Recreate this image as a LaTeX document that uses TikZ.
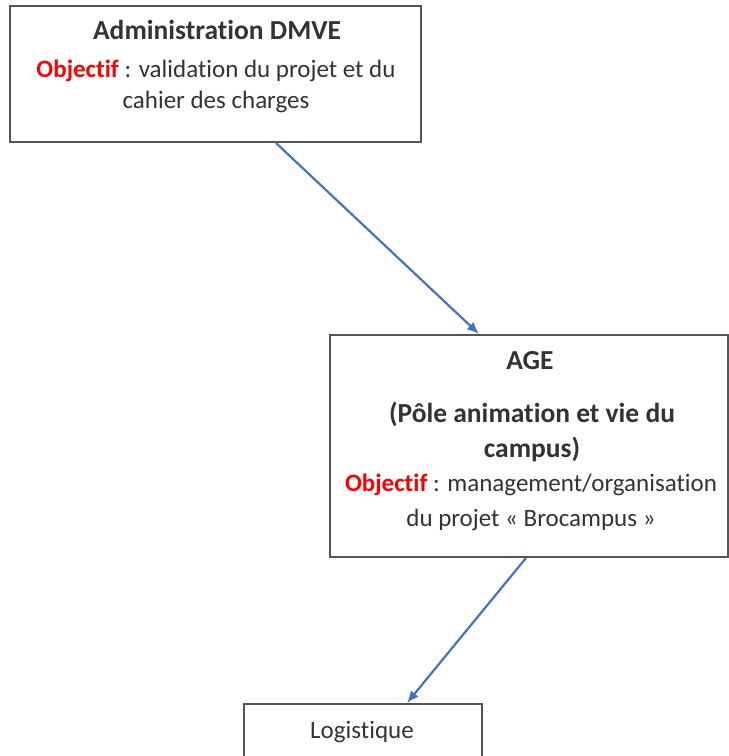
\documentclass[tikz,border=0pt]{standalone}
\usepackage{fontspec}
\setmainfont[Ligatures=NoCommon]{Carlito}
\usetikzlibrary{calc,arrows.meta}
\definecolor{boxgray}{HTML}{555555}
\definecolor{arrblue}{HTML}{4472C4}
\definecolor{objred}{HTML}{FF0000}
\definecolor{txt}{HTML}{333333}
\tikzset{
  box/.style={draw=boxgray, line width=2pt, fill=white, inner sep=0pt},
  lbl/.style={font=\fontsize{25}{31}\selectfont, text=txt, align=center, inner sep=0pt},
  head/.style={lbl, font=\fontsize{27.5}{31}\selectfont\bfseries},
  conn/.style={draw=arrblue, line width=2.2pt, -{Latex[length=12pt,width=10pt]}}
}
\newcommand{\obj}{\textcolor{objred}{\textbf{Objectif}}}
\begin{document}
\begin{tikzpicture}[x=1pt,y=1pt]
\useasboundingbox (0,0) rectangle (729,756);
\clip (0,0) rectangle (729,756);
\node[box, minimum width=411pt, minimum height=136pt] (b1) at (215.5,682) {};
\node[box, minimum width=398pt, minimum height=222pt] (b2) at (529,310) {};
\node[box, minimum width=238pt, minimum height=70pt] (b3) at (363,17) {};
\node[head, anchor=base] (t1) at (217,716) {Administration DMVE};
\node[lbl, anchor=base] (t2) at (216,678) {\obj{} : validation du projet et du};
\node[lbl, anchor=base] (t3) at (216,647) {cahier des charges};
\node[head, anchor=base] (a1) at (530,386) {AGE};
\node[head, anchor=base] (a2) at (532,333) {(Pôle animation et vie du};
\node[head, anchor=base] (a3) at (532,298) {campus)};
\node[lbl, anchor=base] (a4) at (531,264) {\obj{} : management/organisation};
\node[lbl, anchor=base] (a5) at (531,229) {du projet « Brocampus »};
\node[lbl, anchor=base] (l1) at (362,17) {Logistique};
\coordinate (s1) at ($(b1.south west)+(267,0)$);
\coordinate (e1) at ($(b2.north west)+(150,0)$);
\coordinate (s2) at ($(b2.south west)+(197,0)$);
\coordinate (e2) at ($(b3.north west)+(164,0)$);
\draw[conn] (s1) -- (e1);
\draw[conn] (s2) -- (e2);
\end{tikzpicture}
\end{document}
